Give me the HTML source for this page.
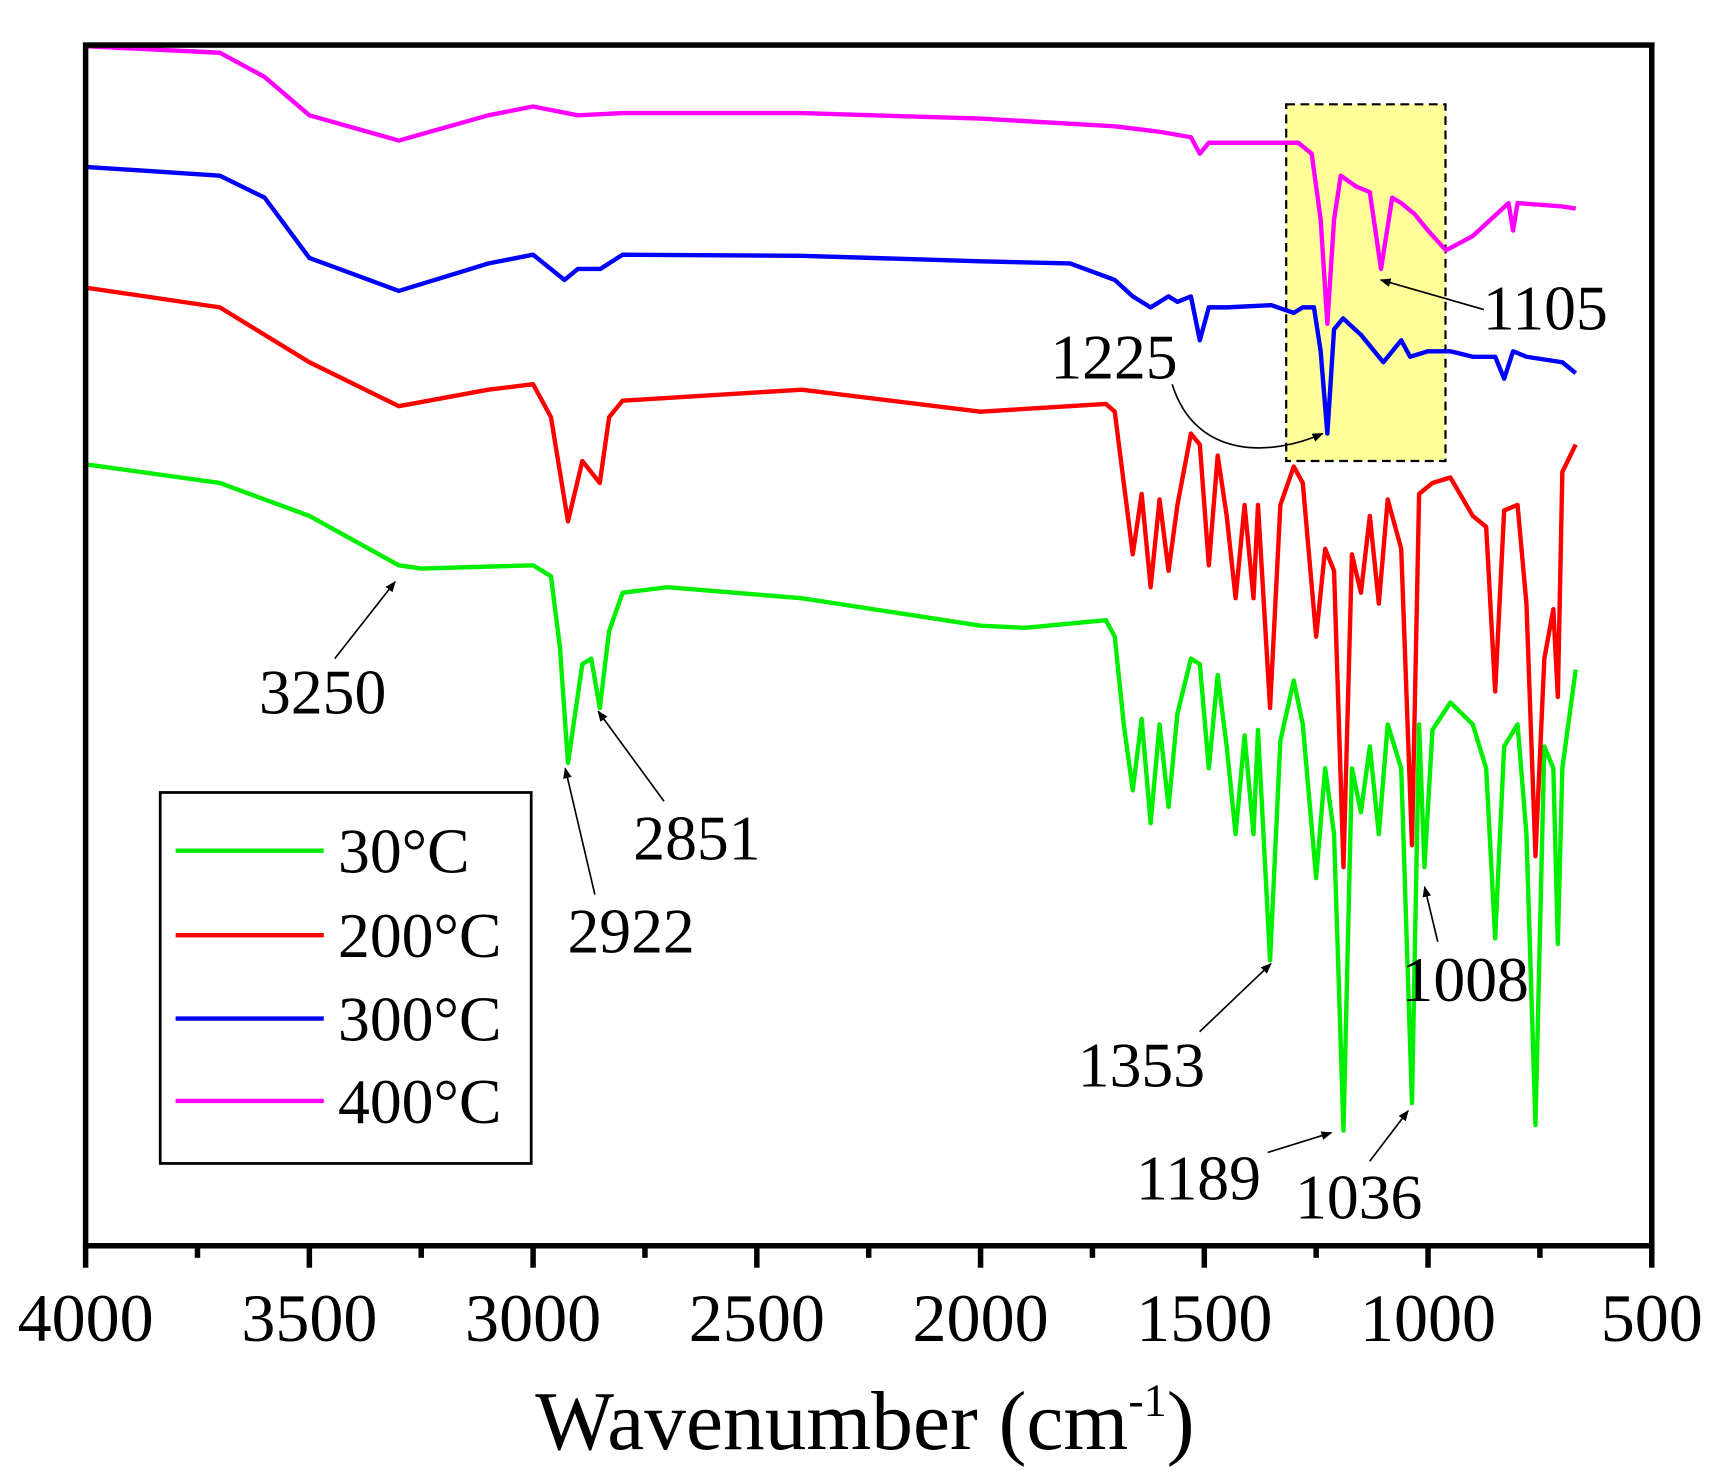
<!DOCTYPE html>
<html><head><meta charset="utf-8"><style>html,body{margin:0;padding:0;background:#fff}svg{display:block}</style></head>
<body>
<svg id="chart" width="1715" height="1484" viewBox="0 0 1562.6 1352" xmlns="http://www.w3.org/2000/svg" font-family="'Liberation Serif', serif">
<defs><marker id="ah" markerWidth="10" markerHeight="8" refX="9" refY="4" orient="auto" markerUnits="userSpaceOnUse"><path d="M0,0 L10,4 L0,8 z" fill="#000"/></marker></defs>
<g id="highlight"></g>
<g id="series"></g>
<g id="axes"></g>
<g id="annot"></g>
<g id="legend"></g>
</svg>
<script>
const xTicks=[4000,3500,3000,2500,2000,1500,1000,500];
const wn30=[4000,3700,3500,3300,3250,3000,2960,2940,2922,2890,2870,2851,2830,2800,2700,2400,2000,1900,1720,1700,1680,1660,1640,1620,1600,1580,1560,1530,1510,1490,1470,1450,1430,1410,1390,1380,1353,1330,1300,1280,1250,1230,1210,1189,1170,1150,1130,1110,1090,1060,1036,1020,1008,990,950,900,870,850,830,800,780,760,740,720,710,700,670];
const v30=[712,695,665,620,617,620,610,545,440,530,535,490,560,595,600,590,565,563,570,555,475,415,480,385,475,400,485,535,530,435,520,455,375,465,375,470,260,460,515,475,335,435,375,105,435,395,455,375,475,435,130,475,345,470,495,475,435,280,455,475,375,110,455,435,275,435,525];
const wn200=[4000,3700,3500,3300,3100,3000,2960,2922,2890,2851,2830,2800,2400,2000,1720,1700,1680,1660,1640,1620,1600,1580,1560,1530,1510,1490,1470,1450,1430,1410,1390,1380,1353,1330,1300,1280,1250,1230,1210,1189,1170,1150,1130,1110,1090,1060,1036,1020,990,950,900,870,850,830,800,780,760,740,720,710,700,670];
const v200=[873,855,805,765,780,785,755,660,715,695,755,770,780,760,767,760,695,630,685,600,680,615,675,740,730,620,720,665,590,675,590,675,490,675,710,695,555,635,615,345,630,595,665,585,680,635,365,685,695,700,665,655,505,670,675,585,355,535,580,500,705,730];
const wn300=[4000,3700,3600,3500,3300,3100,3000,2930,2900,2850,2800,2400,2000,1800,1700,1660,1620,1580,1560,1530,1510,1490,1450,1350,1300,1280,1255,1240,1225,1210,1190,1150,1100,1060,1040,1000,950,900,850,830,810,780,700,670];
const v300=[983,975,955,900,870,895,903,880,890,890,903,902,897,895,880,865,855,865,860,865,825,855,855,857,850,855,855,815,740,835,845,830,805,825,810,815,815,810,810,790,815,810,805,795];
const wn400=[4000,3700,3600,3500,3300,3100,3000,2900,2800,2400,2000,1700,1600,1530,1510,1490,1350,1290,1260,1240,1225,1210,1195,1160,1130,1105,1080,1060,1030,1000,960,900,820,810,800,700,670];
const v400=[1093,1087,1065,1030,1007,1030,1038,1030,1032,1032,1027,1020,1015,1010,995,1005,1005,1005,995,935,840,935,975,965,960,890,955,950,940,925,907,920,950,925,950,947,945];
const seriesNames=["30°C","200°C","300°C","400°C"];
const seriesColors=["#00ee00","#ff0000","#0000ff","#ff00ff"];
const L=78,R=1505,T=41,B=1135;
const xS=w=>L+(4000-w)/3500*(R-L);
const yS=v=>B-v/1094*(B-T);
const NS="http://www.w3.org/2000/svg";
function mk(tag,attrs,parent){const e=document.createElementNS(NS,tag);for(const k in attrs)e.setAttribute(k,attrs[k]);parent.appendChild(e);return e;}
const hl=document.getElementById('highlight');
const box=mk('rect',{x:xS(1317),y:yS(1040),width:xS(961)-xS(1317),height:yS(715)-yS(1040),fill:'#ffff99',stroke:'#000','stroke-width':2,'stroke-dasharray':'8,5'},hl);


const sg=document.getElementById('series');
const all=[[wn30,v30],[wn200,v200],[wn300,v300],[wn400,v400]];
all.forEach((s,i)=>{
  const d=s[0].map((w,j)=>(j?'L':'M')+xS(w).toFixed(1)+','+yS(s[1][j]).toFixed(1)).join(' ');
  const p=mk('path',{d:d,fill:'none',stroke:seriesColors[i],'stroke-width':4,'stroke-linejoin':'round'},sg);
  
  
});
const ax=document.getElementById('axes');
const fr=mk('rect',{x:L,y:T,width:R-L,height:B-T,fill:'none',stroke:'#000','stroke-width':5},ax);


for(let w=4000;w>=500;w-=250){
  const major=w%500===0;
  mk('line',{x1:xS(w),x2:xS(w),y1:B,y2:B+(major?20:11),stroke:'#000','stroke-width':5},ax);
}
xTicks.forEach(t=>{
  const tx=mk('text',{x:xS(t),y:1222,'font-size':62,'text-anchor':'middle'},ax);
  tx.textContent=t;
  
  
});
const tt=mk('text',{x:788,y:1320,'font-size':76,'text-anchor':'middle'},ax);
tt.innerHTML='Wavenumber (cm<tspan dy="-30" font-size="42">-1</tspan><tspan dy="30">)</tspan>';


const an=document.getElementById('annot');
const notes=[["3250",294,650,"M305,600 L360,530"],["2922",575,868,"M542,815 L515,700"],["2851",635,783,"M605,730 L545,648"],["1225",1015,345,"M1068,350 C1090,420 1160,415 1205,395"],["1105",1408,300,"M1352,282 L1258,255"],["1353",1040,990,"M1093,940 L1158,878"],["1189",1092,1093,"M1155,1050 L1213,1032"],["1036",1238,1110,"M1248,1058 L1283,1012"],["1008",1335,912,"M1310,858 L1298,808"]];
notes.forEach(n=>{
  const t=mk('text',{x:n[1],y:n[2],'font-size':58,'text-anchor':'middle'},an);
  t.textContent=n[0];
  
  
  const a=mk('path',{d:n[3],fill:'none',stroke:'#000','stroke-width':1.5,'marker-end':'url(#ah)'},an);
  
  
});
const lg=document.getElementById('legend');
const lb=mk('rect',{x:146,y:722,width:338,height:338,fill:'#fff',stroke:'#000','stroke-width':2.5},lg);


const ly=[775,852,928,1003];
seriesNames.forEach((n,i)=>{
  const l=mk('line',{x1:160,x2:295,y1:ly[i],y2:ly[i],stroke:seriesColors[i],'stroke-width':4},lg);
  
  
  const t=mk('text',{x:308,y:ly[i]+20,'font-size':58},lg);
  t.textContent=n;
  
  
});
</script>
</body></html>
